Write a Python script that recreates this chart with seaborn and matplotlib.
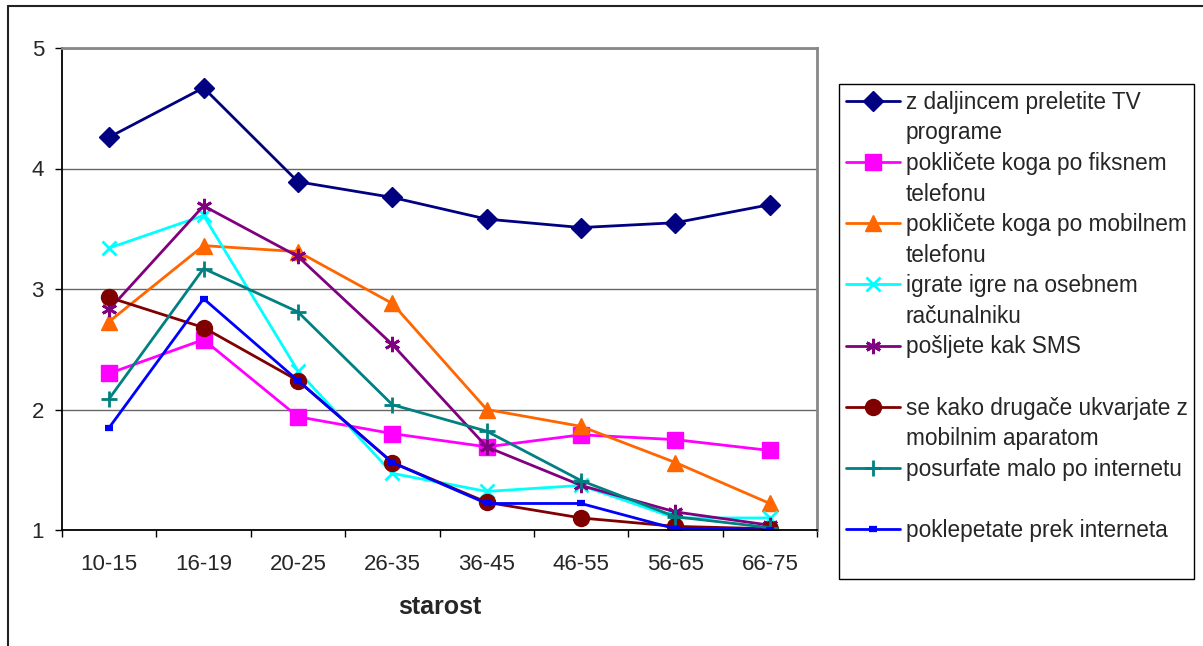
import numpy as np
import pandas as pd
import matplotlib
matplotlib.use('Agg')
import matplotlib.pyplot as plt
from matplotlib.lines import Line2D
import seaborn as sns

# age groups (x axis)
ages = ['10-15', '16-19', '20-25', '26-35', '36-45', '46-55', '56-65', '66-75']

# series values
tv = [4.26, 4.67, 3.89, 3.76, 3.58, 3.51, 3.55, 3.70]
fiksni = [2.30, 2.58, 1.94, 1.80, 1.69, 1.79, 1.75, 1.66]
mobilni = [2.73, 3.36, 3.31, 2.88, 2.00, 1.86, 1.56, 1.22]
igre = [3.34, 3.61, 2.32, 1.47, 1.32, 1.37, 1.10, 1.10]
sms = [2.83, 3.69, 3.27, 2.54, 1.69, 1.37, 1.15, 1.04]
drugace = [2.93, 2.68, 2.24, 1.56, 1.23, 1.10, 1.03, 1.01]
surfanje = [2.09, 3.17, 2.81, 2.04, 1.82, 1.41, 1.11, 1.02]
klepet = [1.85, 2.92, 2.24, 1.56, 1.22, 1.22, 1.01, 1.00]

labels = [
    ('z daljincem preletite TV', 'programe'),
    ('pokličete koga po fiksnem', 'telefonu'),
    ('pokličete koga po mobilnem', 'telefonu'),
    ('igrate igre na osebnem', 'računalniku'),
    ('pošljete kak SMS', ' '),
    ('se kako drugače ukvarjate z', 'mobilnim aparatom'),
    ('posurfate malo po internetu', ' '),
    ('poklepetate prek interneta', ' '),
]
series = [tv, fiksni, mobilni, igre, sms, drugace, surfanje, klepet]

# style per series: color, marker, size, edge width
styles = [
    ('#000080', 'D', 10.5, 1),
    ('#FF00FF', 's', 11, 1),
    ('#FF6600', '^', 11.5, 1),
    ('#00FFFF', 'x', 10, 2),
    ('#800080', (6, 2, 0), 11, 2),
    ('#800000', 'o', 11.5, 1),
    ('#008080', '+', 11, 2),
    ('#0000FF', '_', 6, 4.5),
]

sns.set_style('white')
plt.rcParams['font.family'] = ['Liberation Sans', 'DejaVu Sans']

fig = plt.figure(figsize=(12.03, 6.46), dpi=100)
ax = fig.add_axes([62 / 1203, 1 - 530 / 646, 755 / 1203, 482 / 646])

xpos = np.arange(len(ages))
handles = []
for vals, (c, m, ms, mew) in zip(series, styles):
    df = pd.DataFrame({'x': xpos, 'y': vals})
    sns.lineplot(data=df, x='x', y='y', ax=ax, color=c, linewidth=2,
                 marker=m, markersize=ms, markeredgecolor=c,
                 markerfacecolor=c, markeredgewidth=mew)
    handles.append(Line2D([], [], color=c, linewidth=2, marker=m,
                          markersize=ms, markeredgecolor=c,
                          markerfacecolor=c, markeredgewidth=mew))

ax.set_xlim(-0.5, len(ages) - 0.5)
ax.set_ylim(1, 5)
ax.set_yticks([1, 2, 3, 4, 5])
ax.set_xticks(xpos)
ax.set_xticklabels(ages)
ax.set_xticks(np.arange(-0.5, len(ages), 1.0), minor=True)
ax.tick_params(axis='x', which='major', length=0, pad=17, labelsize=16)
ax.tick_params(axis='x', which='minor', length=5, width=1, color='black',
               direction='out', bottom=True)
ax.tick_params(axis='y', length=5, width=1, color='black', direction='out',
               left=True, pad=8, labelsize=16)
ax.set_xlabel('starost', fontsize=18, fontweight='bold', labelpad=15)
ax.set_ylabel('')

ax.grid(axis='y', color='#666666', linewidth=1)
ax.grid(axis='x', visible=False)
for side in ['left', 'bottom']:
    ax.spines[side].set_color('black')
    ax.spines[side].set_linewidth(1.3)
for side in ['top', 'right']:
    ax.spines[side].set_color('#888888')
    ax.spines[side].set_linewidth(2)

# legend: two rows per entry, like the original
blank = Line2D([], [], color='none')
leg_handles = []
leg_labels = []
for h, (l1, l2) in zip(handles, labels):
    leg_handles += [h, blank]
    leg_labels += [l1, l2]
leg = fig.legend(leg_handles, leg_labels, loc='upper left',
                 bbox_to_anchor=(839 / 1203, 1 - 84 / 646),
                 fontsize=16.3, frameon=True, fancybox=False,
                 edgecolor='black', framealpha=1, borderaxespad=0,
                 handlelength=2.4, handletextpad=0.25, labelspacing=0.335,
                 borderpad=0.3)
leg.get_frame().set_linewidth(1)

# outer chart frame
fig.add_artist(Line2D([8 / 1203, 8 / 1203], [0, 1 - 6 / 646],
                      transform=fig.transFigure, color='#222222', linewidth=1.5))
fig.add_artist(Line2D([8 / 1203, 1], [1 - 6 / 646, 1 - 6 / 646],
                      transform=fig.transFigure, color='#222222', linewidth=1.5))

fig.savefig('out.png', dpi=100)
